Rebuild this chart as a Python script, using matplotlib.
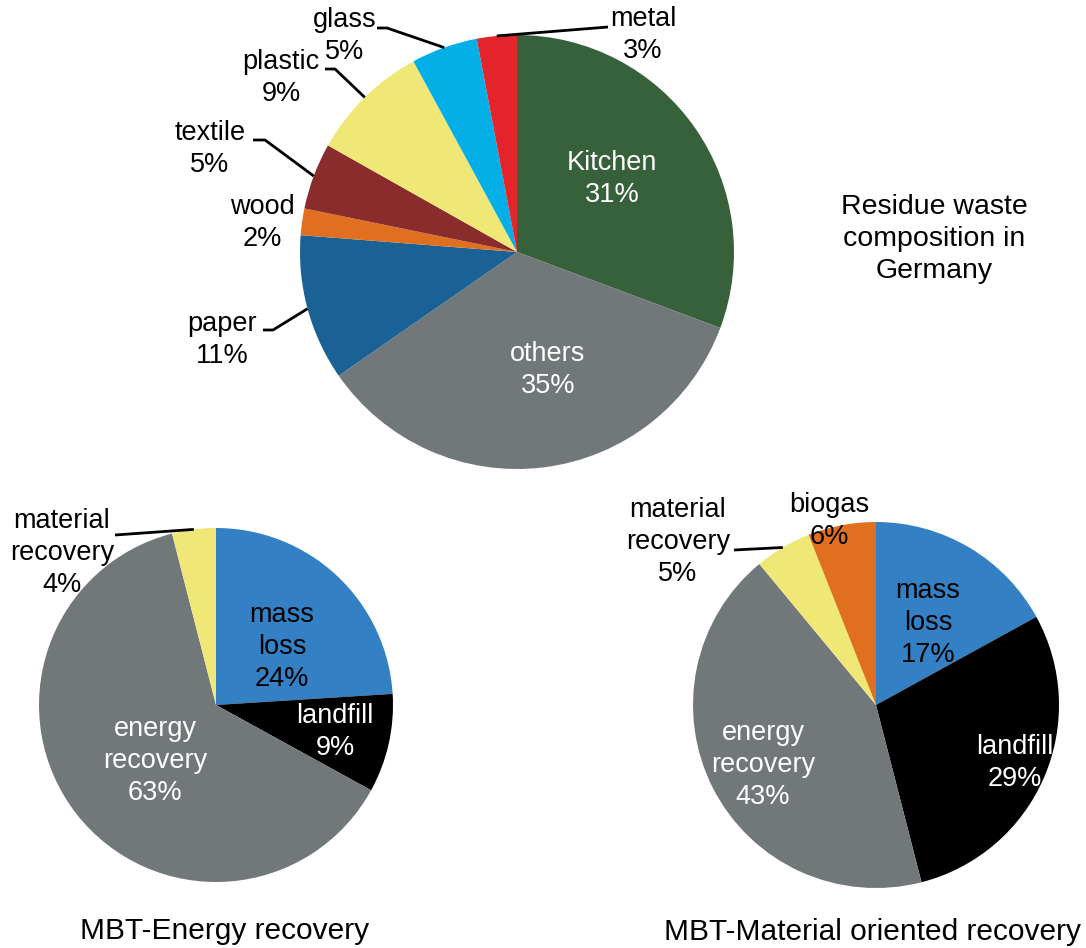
import numpy as np
import matplotlib.pyplot as plt
from matplotlib import font_manager

W, H = 1086, 948

# residual waste composition in Germany (%)
waste_names = ['Kitchen', 'others', 'paper', 'wood', 'textile', 'plastic', 'glass', 'metal']
waste_share = [31, 35, 11, 2, 5, 9, 5, 3]
waste_colors = ['#37613a', '#727879', '#1a6295', '#e0701f', '#8a2b2c', '#efe876', '#04aee6', '#e3242b']

# MBT with energy recovery (%)
energy_names = ['mass\nloss', 'landfill', 'energy\nrecovery', 'material\nrecovery']
energy_share = [24, 9, 63, 4]
energy_colors = ['#3380c4', '#000000', '#727879', '#efe876']

# MBT with material oriented recovery (%)
material_names = ['mass\nloss', 'landfill', 'energy\nrecovery', 'material\nrecovery', 'biogas']
material_share = [17, 29, 43, 5, 6]
material_colors = ['#3380c4', '#000000', '#727879', '#efe876', '#e0701f']

plt.rcParams['font.family'] = ['Liberation Sans', 'DejaVu Sans']
names = {f.name for f in font_manager.fontManager.ttflist}
narrow = 'Liberation Sans Narrow' if 'Liberation Sans Narrow' in names else 'Liberation Sans'

fig = plt.figure(figsize=(W / 100, H / 100), dpi=100)
ax = fig.add_axes([0, 0, 1, 1])


def P(x, y):
    # pixel position (from top-left) -> axes coords
    return x, H - y


def draw_pie(values, colors, cx, cy, r):
    wedges, _ = ax.pie(values, colors=colors, startangle=90, counterclock=False,
                       center=P(cx, cy), radius=r, frame=True,
                       wedgeprops=dict(linewidth=0))
    return wedges


def rim(w, frac=1.0):
    a = np.deg2rad((w.theta1 + w.theta2) / 2)
    cx, cy = w.center
    return cx + w.r * frac * np.cos(a), cy + w.r * frac * np.sin(a)


def leader(w, pts):
    x0, y0 = rim(w)
    xs = [x0] + [P(*p)[0] for p in pts]
    ys = [y0] + [P(*p)[1] for p in pts]
    ax.plot(xs, ys, color='black', lw=2, solid_capstyle='butt', zorder=5)


def label(x, y, txt, color='black', size=19.5):
    ax.text(*P(x, y), txt, ha='center', va='center', color=color,
            fontsize=size, linespacing=1.32, zorder=6)


# --- top pie ---
top = draw_pie(waste_share, waste_colors, 517, 252, 217)
lab = [f'{n}\n{v}%' for n, v in zip(waste_names, waste_share)]
label(612, 179, lab[0], 'white')
label(548, 370, lab[1], 'white')
label(222, 340, lab[2])
label(262, 223, lab[3])
label(210, 149, lab[4])
label(281, 78, lab[5])
label(345, 36, lab[6])
label(643, 35, lab[7])
leader(top[2], [(273, 330), (263, 330)])
leader(top[4], [(265, 140), (253, 140)])
leader(top[5], [(335, 69), (325, 69)])
leader(top[6], [(387, 28), (377, 28)])
leader(top[7], [(608, 27)])

ax.text(*P(934, 239), 'Residue waste\ncomposition in\nGermany', ha='center', va='center',
        fontsize=20.5, linespacing=1.28)

# --- bottom left pie ---
left = draw_pie(energy_share, energy_colors, 216, 705, 177)
lab = [f'{n}\n{v}%' for n, v in zip(energy_names, energy_share)]
label(282, 647, lab[0])
label(335, 732, lab[1], 'white')
label(155, 761, lab[2], 'white')
label(62, 553, lab[3])
leader(left[3], [(115, 535)])
ax.text(*P(225, 931), 'MBT-Energy recovery', ha='center', va='center',
        fontsize=21.5, family=[narrow, 'DejaVu Sans'])

# --- bottom right pie ---
right = draw_pie(material_share, material_colors, 876, 705, 183)
lab = [f'{n}\n{v}%' for n, v in zip(material_names, material_share)]
label(928, 623, lab[0])
label(1015, 763, lab[1], 'white')
label(763, 765, lab[2], 'white')
label(678, 542, lab[3])
label(829, 521, lab[4])
leader(right[3], [(734, 550)])
ax.text(*P(872, 932), 'MBT-Material oriented recovery', ha='center', va='center',
        fontsize=21.5, family=[narrow, 'DejaVu Sans'])

ax.set_xlim(0, W)
ax.set_ylim(0, H)
ax.set_aspect('equal')
ax.axis('off')

fig.savefig('out.png', dpi=100, facecolor='white')
